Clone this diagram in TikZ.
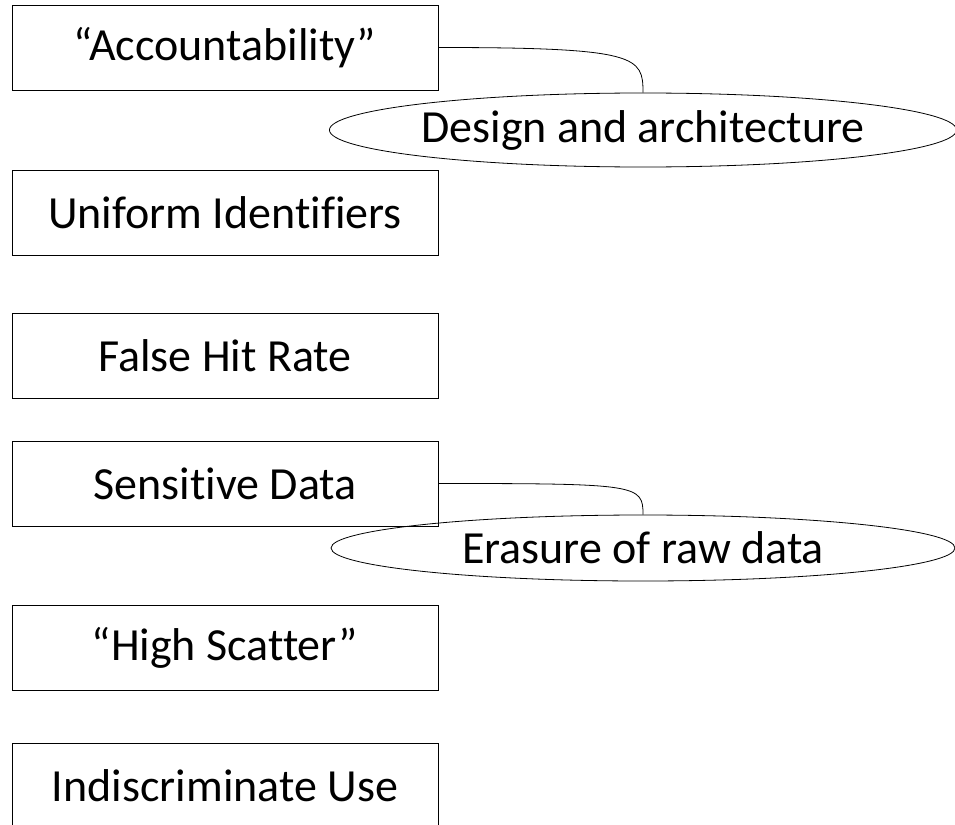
\documentclass[tikz,border=0pt]{standalone}
\usepackage{fontspec}
\setmainfont{Carlito}[Ligatures=NoCommon]
\usetikzlibrary{shapes.geometric}

\begin{document}
\begin{tikzpicture}[x=1pt,y=-1pt,
    issue/.style={draw=black, line width=0.8pt, minimum width=426pt, minimum height=85pt,
                  inner sep=0pt, font=\fontsize{46}{54}\selectfont},
    remedy/.style={draw=black, line width=0.8pt, ellipse, inner sep=0pt,
                   font=\fontsize{46}{54}\selectfont},
    link/.style={draw=black, line width=0.8pt}]

    \useasboundingbox (0,0) rectangle (955,824);

\foreach \y/\name/\txt in {47.5/acc/“Accountability”, 213/uid/Uniform Identifiers,
                            355.5/fhr/False Hit Rate, 483.5/sens/Sensitive Data,
                            647.5/scat/“High Scatter”, 785.5/indis/Indiscriminate Use}
{
    \node[issue] (\name) at (225,\y) {\txt};
}

    \node[remedy, minimum width=624pt, minimum height=74pt] (design) at (643,130) {Design and architecture};
    \node[remedy, minimum width=624pt, minimum height=66pt] (erase) at (643,548) {Erasure of raw data};

    \draw[link] (acc.east) .. controls +(200,0) and +(0,-36) .. (design.north);
    \draw[link] (sens.east) .. controls +(200,0) and +(0,-30) .. (erase.north);

\end{tikzpicture}
\end{document}
